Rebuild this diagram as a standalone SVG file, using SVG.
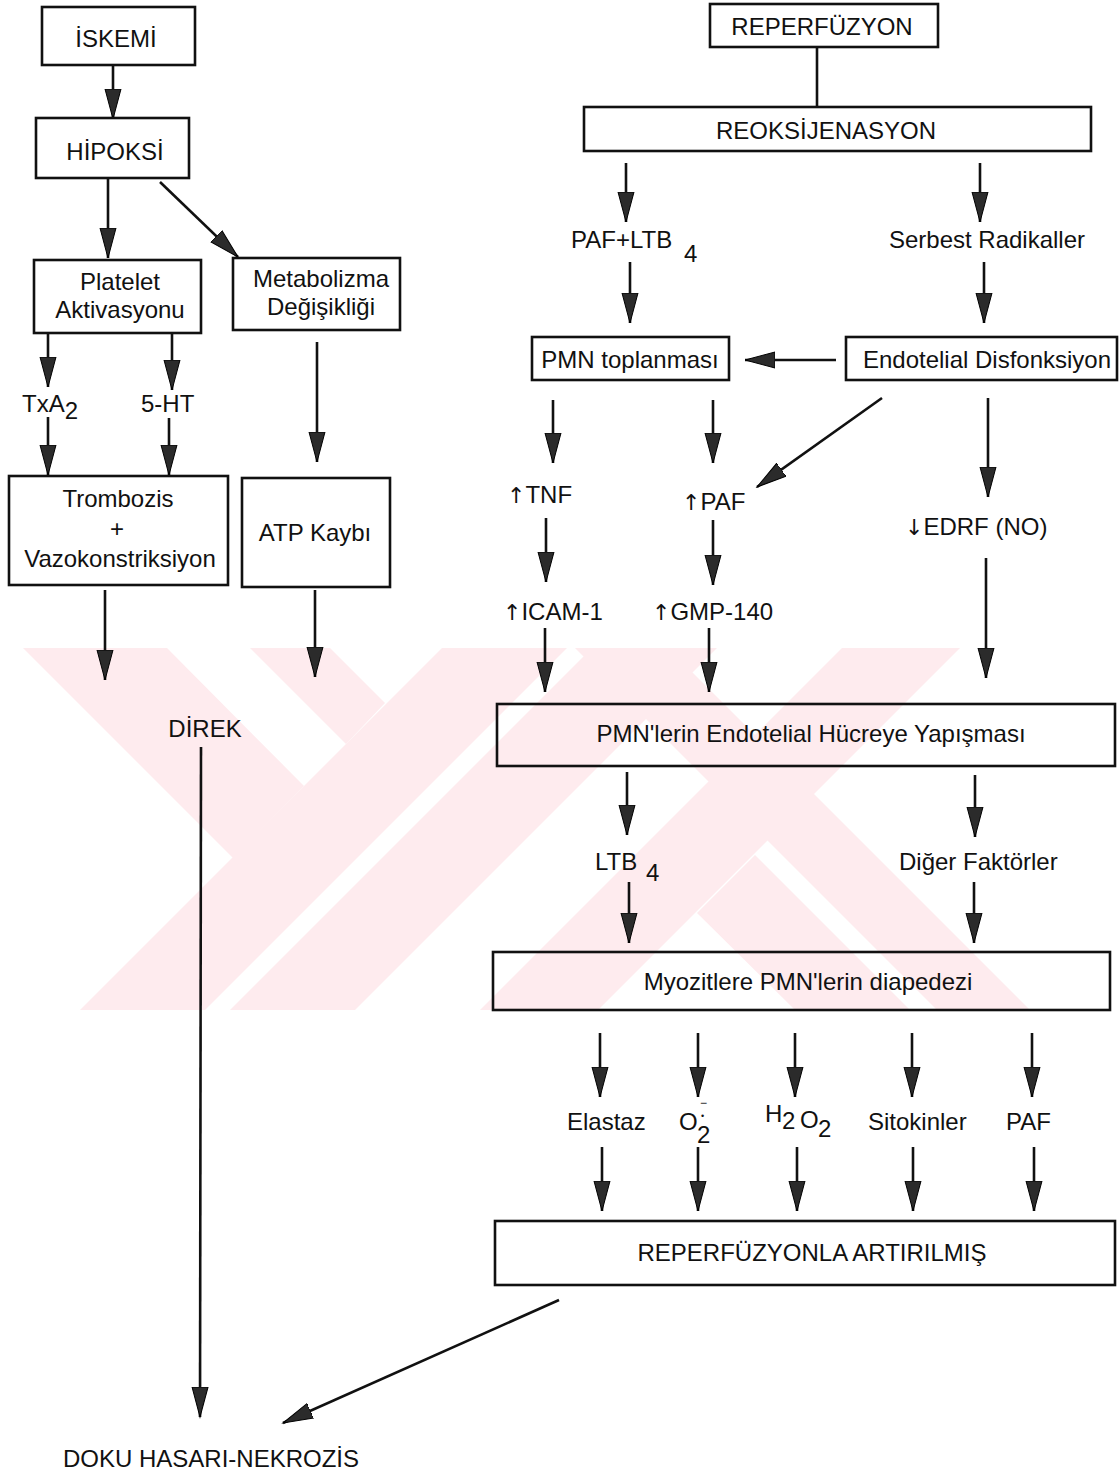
<svg xmlns="http://www.w3.org/2000/svg" width="1120" height="1473" viewBox="0 0 1120 1473">
  <defs>
    <style>
      .bx { fill: none; stroke: #111; stroke-width: 2.6; }
      .t { font-family: "Liberation Sans", Arial, sans-serif; font-size: 24px; fill: #111; }
      .m { text-anchor: middle; }
      .up { font-family: "DejaVu Sans", sans-serif; font-size: 22px; }
      .ln { stroke: #111; stroke-width: 2.6; fill: none; }
      .ar { marker-end: url(#ah); }
      .wm { fill: #feebee; }
    </style>
    <marker id="ah" markerUnits="userSpaceOnUse" markerWidth="32" markerHeight="18" viewBox="0 0 32 18" refX="30" refY="9" orient="auto">
      <path d="M0,1 L30,9 L0,17 Z" fill="#2b2b2b" stroke="#000" stroke-width="1"/>
    </marker>
    <clipPath id="wmclip">
      <rect x="20" y="648" width="1025" height="362"/>
    </clipPath>
  </defs>

  <rect width="1120" height="1473" fill="#fff"/>

  <!-- faint background emblem -->
  <g id="emblem" class="wm" clip-path="url(#wmclip)">
    <polygon points="23,648 167,648 304,786 233,858"/>
    <polygon points="250,648 330,648 385,703 346,744"/>
    <polygon points="442,648 567,648 205,1010 80,1010"/>
    <polygon points="592,648 717,648 355,1010 230,1010"/>
    <polygon points="842,648 960,648 598,1010 480,1010"/>
    <polygon points="575,648 668,648 1030,1010 937,1010"/>
    <polygon points="755,855 910,1010 795,1010 697,913"/>
  </g>

  <!-- connectors -->
  <g id="connectors">
    <line class="ln ar" x1="113" y1="66" x2="113" y2="119"/>
    <line class="ln ar" x1="108" y1="179" x2="108" y2="258"/>
    <line class="ln ar" x1="160" y1="182" x2="238" y2="257"/>
    <line class="ln ar" x1="48" y1="334" x2="48" y2="387"/>
    <line class="ln ar" x1="172" y1="334" x2="172" y2="390"/>
    <line class="ln ar" x1="48" y1="417" x2="48" y2="475"/>
    <line class="ln ar" x1="169" y1="418" x2="169" y2="475"/>
    <line class="ln ar" x1="317" y1="342" x2="317" y2="462"/>
    <line class="ln ar" x1="105" y1="590" x2="105" y2="680"/>
    <line class="ln ar" x1="315" y1="590" x2="315" y2="677"/>
    <line class="ln ar" x1="201" y1="747" x2="200" y2="1417"/>

    <line class="ln" x1="817" y1="47" x2="817" y2="108"/>
    <line class="ln ar" x1="626" y1="163" x2="626" y2="222"/>
    <line class="ln ar" x1="980" y1="163" x2="980" y2="222"/>
    <line class="ln ar" x1="630" y1="262" x2="630" y2="323"/>
    <line class="ln ar" x1="984" y1="262" x2="984" y2="323"/>
    <line class="ln ar" x1="836" y1="360" x2="745" y2="360"/>
    <line class="ln ar" x1="553" y1="400" x2="553" y2="463"/>
    <line class="ln ar" x1="713" y1="400" x2="713" y2="463"/>
    <line class="ln ar" x1="882" y1="398" x2="757" y2="487"/>
    <line class="ln ar" x1="988" y1="398" x2="988" y2="497"/>
    <line class="ln ar" x1="546" y1="518" x2="546" y2="582"/>
    <line class="ln ar" x1="713" y1="520" x2="713" y2="585"/>
    <line class="ln ar" x1="986" y1="558" x2="986" y2="678"/>
    <line class="ln ar" x1="545" y1="628" x2="545" y2="692"/>
    <line class="ln ar" x1="709" y1="628" x2="709" y2="692"/>
    <line class="ln ar" x1="627" y1="772" x2="627" y2="835"/>
    <line class="ln ar" x1="975" y1="775" x2="975" y2="837"/>
    <line class="ln ar" x1="629" y1="882" x2="629" y2="943"/>
    <line class="ln ar" x1="974" y1="882" x2="974" y2="943"/>

    <line class="ln ar" x1="600" y1="1033" x2="600" y2="1097"/>
    <line class="ln ar" x1="698" y1="1033" x2="698" y2="1097"/>
    <line class="ln ar" x1="795" y1="1033" x2="795" y2="1097"/>
    <line class="ln ar" x1="912" y1="1033" x2="912" y2="1097"/>
    <line class="ln ar" x1="1032" y1="1033" x2="1032" y2="1097"/>

    <line class="ln ar" x1="602" y1="1147" x2="602" y2="1211"/>
    <line class="ln ar" x1="698" y1="1147" x2="698" y2="1211"/>
    <line class="ln ar" x1="797" y1="1147" x2="797" y2="1211"/>
    <line class="ln ar" x1="913" y1="1147" x2="913" y2="1211"/>
    <line class="ln ar" x1="1034" y1="1147" x2="1034" y2="1211"/>

    <line class="ln ar" x1="559" y1="1300" x2="283" y2="1423"/>
  </g>

  <!-- ischemia branch -->
  <g id="iskemi"><rect class="bx" x="42" y="7" width="153" height="58"/><text class="t m" x="116" y="47">İSKEMİ</text></g>
  <g id="hipoksi"><rect class="bx" x="36" y="118" width="153" height="60"/><text class="t m" x="115" y="160">HİPOKSİ</text></g>
  <g id="platelet"><rect class="bx" x="34" y="260" width="167" height="73"/><text class="t m" x="120" y="290">Platelet</text><text class="t m" x="120" y="318">Aktivasyonu</text></g>
  <g id="metabolizma"><rect class="bx" x="233" y="258" width="167" height="72"/><text class="t m" x="321" y="287">Metabolizma</text><text class="t m" x="321" y="315">Değişikliği</text></g>
  <g id="txa2"><text class="t" x="22" y="412">TxA<tspan dy="7">2</tspan></text></g>
  <g id="ht5"><text class="t" x="141" y="412">5-HT</text></g>
  <g id="trombozis"><rect class="bx" x="9" y="476" width="219" height="109"/><text class="t m" x="118" y="507">Trombozis</text><text class="t m" x="117" y="537">+</text><text class="t m" x="120" y="567">Vazokonstriksiyon</text></g>
  <g id="atp"><rect class="bx" x="242" y="478" width="148" height="109"/><text class="t m" x="315" y="541">ATP Kaybı</text></g>
  <g id="direk"><text class="t m" x="205" y="737">DİREK</text></g>
  <g id="doku"><text class="t" x="63" y="1467">DOKU HASARI-NEKROZİS</text></g>

  <!-- reperfusion branch -->
  <g id="reperfuzyon"><rect class="bx" x="710" y="4" width="228" height="43"/><text class="t m" x="822" y="35">REPERFÜZYON</text></g>
  <g id="reoksijenasyon"><rect class="bx" x="584" y="107" width="507" height="44"/><text class="t m" x="826" y="139">REOKSİJENASYON</text></g>
  <g id="pafltb"><text class="t" x="571" y="248">PAF+LTB</text><text class="t" x="684" y="262">4</text></g>
  <g id="radikaller"><text class="t m" x="987" y="248">Serbest Radikaller</text></g>
  <g id="pmn-toplanmasi"><rect class="bx" x="532" y="337" width="197" height="43"/><text class="t m" x="630" y="368">PMN toplanması</text></g>
  <g id="endotelial"><rect class="bx" x="846" y="337" width="271" height="43"/><text class="t m" x="987" y="368">Endotelial Disfonksiyon</text></g>
  <g id="tnf"><text class="t" x="507" y="503"><tspan class="up">↑</tspan><tspan>TNF</tspan></text></g>
  <g id="paf1"><text class="t" x="682" y="510"><tspan class="up">↑</tspan><tspan>PAF</tspan></text></g>
  <g id="edrf"><text class="t" x="905" y="535"><tspan class="up">↓</tspan><tspan>EDRF (NO)</tspan></text></g>
  <g id="icam"><text class="t" x="503" y="620"><tspan class="up">↑</tspan><tspan>ICAM-1</tspan></text></g>
  <g id="gmp"><text class="t" x="652" y="620"><tspan class="up">↑</tspan><tspan>GMP-140</tspan></text></g>
  <g id="yapisma"><rect class="bx" x="497" y="704" width="618" height="62"/><text class="t m" x="811" y="742">PMN'lerin Endotelial Hücreye Yapışması</text></g>
  <g id="ltb4"><text class="t" x="595" y="870">LTB</text><text class="t" x="646" y="881">4</text></g>
  <g id="diger"><text class="t" x="899" y="870">Diğer Faktörler</text></g>
  <g id="diapedez"><rect class="bx" x="493" y="952" width="617" height="58"/><text class="t m" x="808" y="990">Myozitlere PMN'lerin diapedezi</text></g>
  <g id="elastaz"><text class="t" x="567" y="1130">Elastaz</text></g>
  <g id="superoksit"><text class="t" x="679" y="1130">O</text><text class="t" x="697" y="1143">2</text><text class="t" x="700" y="1107" style="font-size:12px">−</text><text class="t" x="701" y="1119" style="font-size:9px">•</text></g>
  <g id="h2o2"><text class="t" x="765" y="1122">H</text><text class="t" x="782" y="1129">2</text><text class="t" x="800" y="1128">O</text><text class="t" x="818" y="1137">2</text></g>
  <g id="sitokinler"><text class="t" x="868" y="1130">Sitokinler</text></g>
  <g id="paf2"><text class="t" x="1006" y="1130">PAF</text></g>
  <g id="artirilmis"><rect class="bx" x="495" y="1221" width="620" height="64"/><text class="t m" x="812" y="1261">REPERFÜZYONLA ARTIRILMIŞ</text></g>
</svg>
